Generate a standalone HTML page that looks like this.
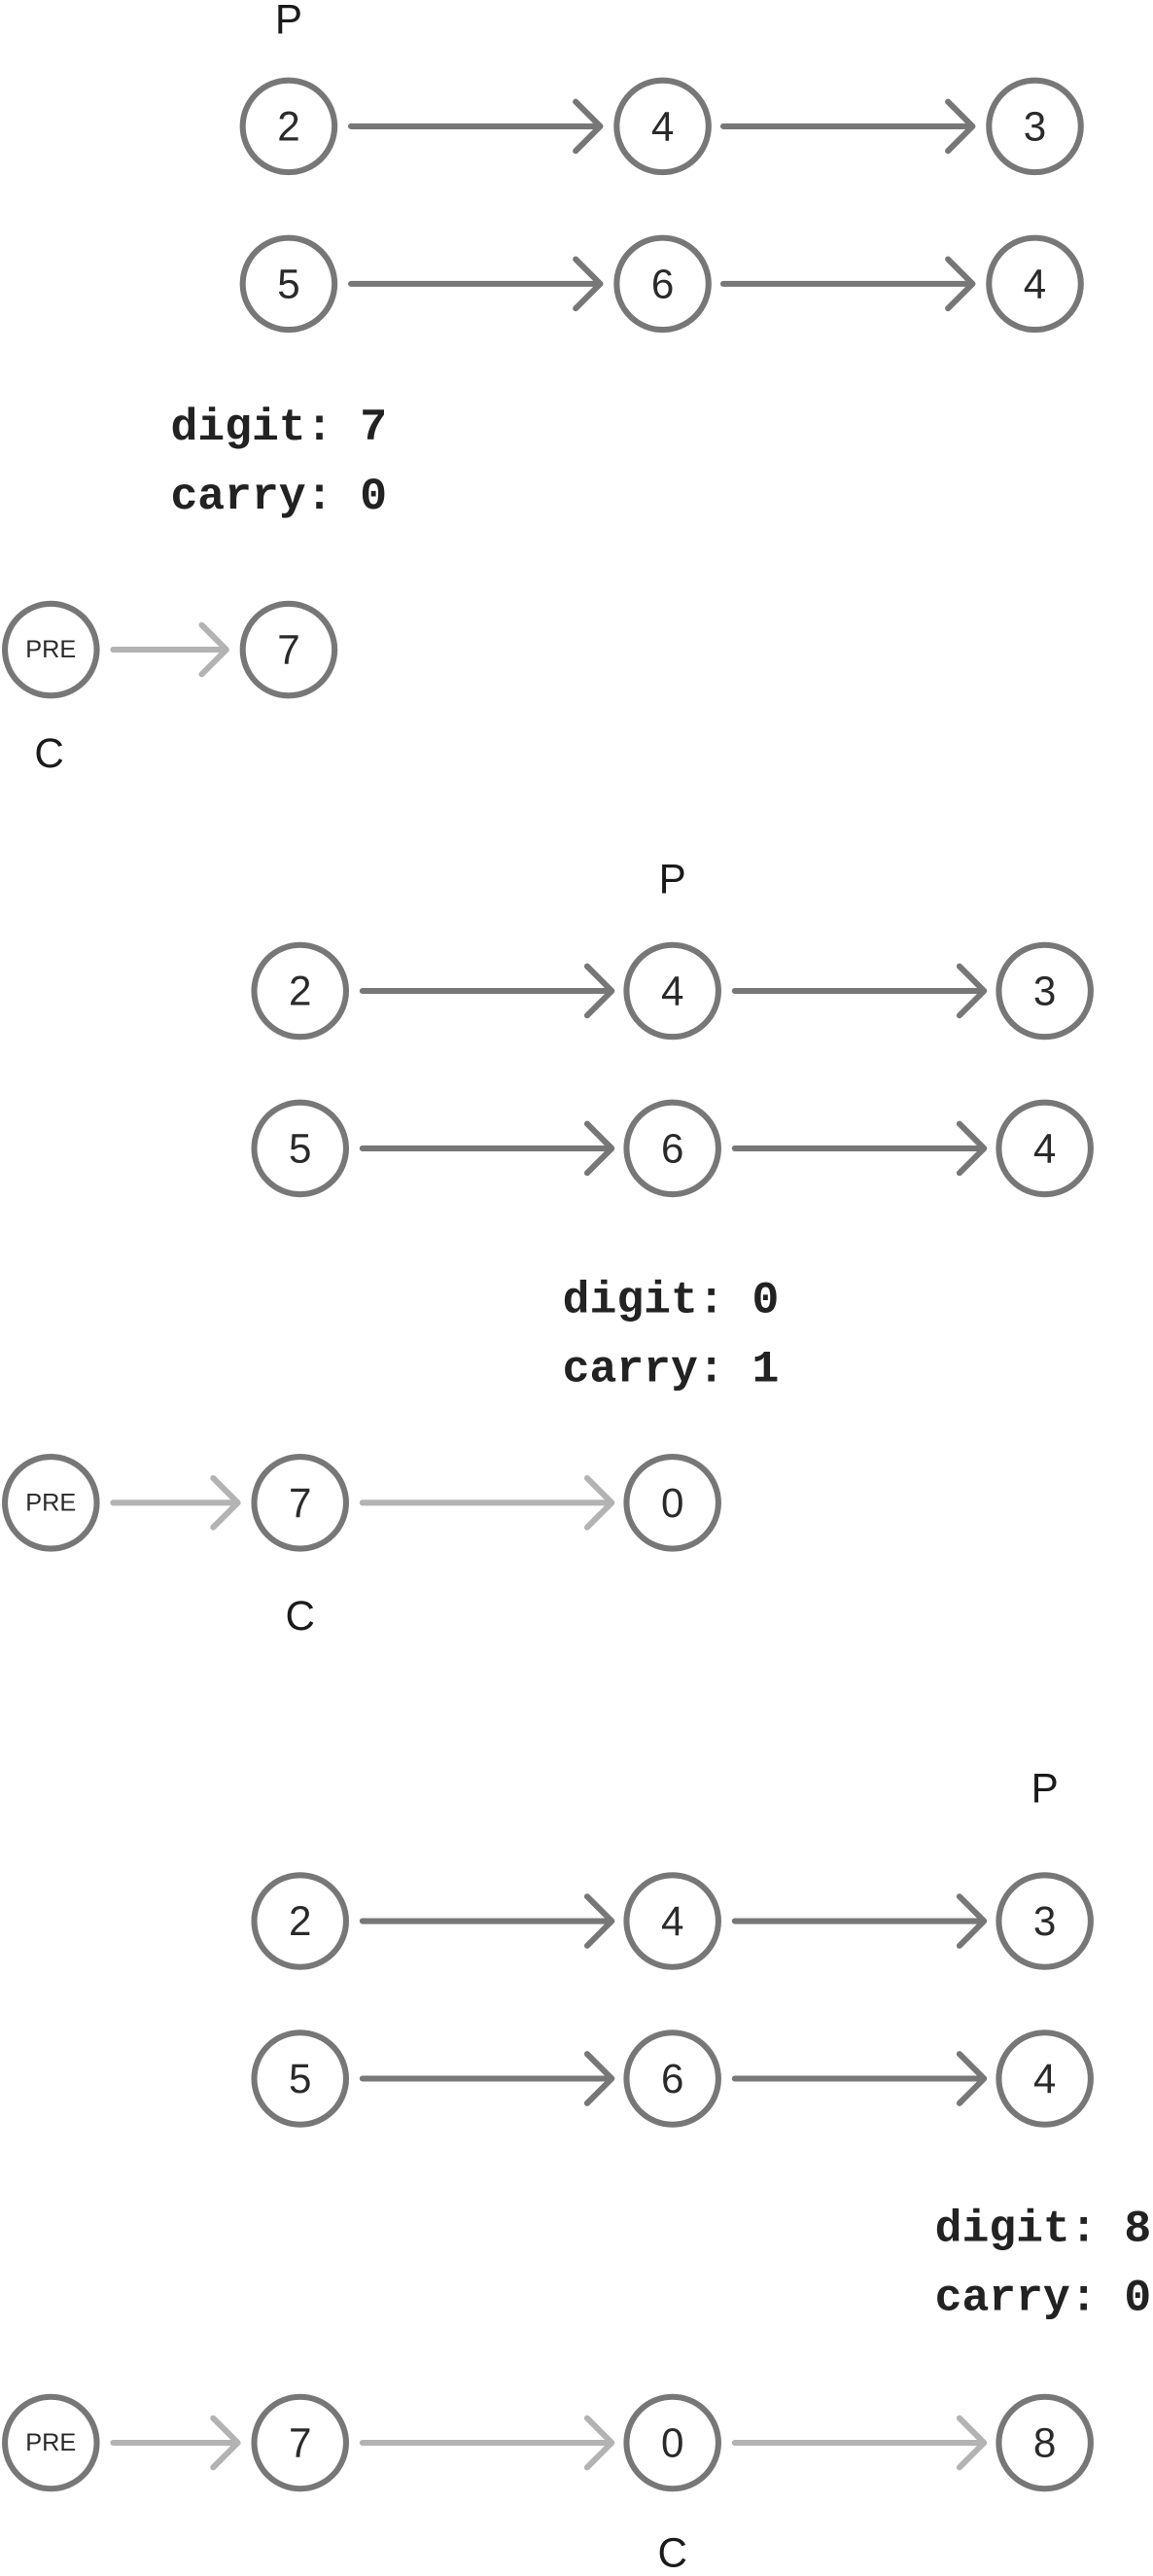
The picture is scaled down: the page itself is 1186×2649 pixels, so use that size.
<!DOCTYPE html>
<html><head><meta charset="utf-8"><style>html,body{margin:0;padding:0;background:#fff}svg{display:block}</style></head>
<body>
<svg width="1186" height="2649" viewBox="0 0 703 1570.2" preserveAspectRatio="none" xmlns="http://www.w3.org/2000/svg">
<defs>
<style>
.c{fill:#fff;stroke:#777;stroke-width:3.6}
.d{stroke:#777;stroke-width:3.6;stroke-linecap:round;fill:none;stroke-linejoin:round}
.l{stroke:#b3b3b3;stroke-width:3.6;stroke-linecap:round;fill:none;stroke-linejoin:round}
.n{font-family:"Liberation Sans",sans-serif;font-size:25px;fill:#2a2a2a;text-anchor:middle;dominant-baseline:central}
.p{font-family:"Liberation Sans",sans-serif;font-size:15px;fill:#2a2a2a;text-anchor:middle;dominant-baseline:central}
.lab{font-family:"Liberation Sans",sans-serif;font-size:25px;fill:#1a1a1a;text-anchor:middle;dominant-baseline:central}
.m{font-family:"Liberation Mono",monospace;font-size:27.5px;font-weight:bold;fill:#222}
</style>
</defs>
<!-- Set 1 -->
<text class="lab" x="176" y="12">P</text>
<path class="d" d="M214 77H366M351 62L366 77L351 92"/>
<path class="d" d="M441 77H593M578 62L593 77L578 92"/>
<path class="d" d="M214 173H366M351 158L366 173L351 188"/>
<path class="d" d="M441 173H593M578 158L593 173L578 188"/>
<circle class="c" cx="176" cy="77" r="28"/><text class="n" x="176" y="77">2</text>
<circle class="c" cx="404" cy="77" r="28"/><text class="n" x="404" y="77">4</text>
<circle class="c" cx="631" cy="77" r="28"/><text class="n" x="631" y="77">3</text>
<circle class="c" cx="176" cy="173" r="28"/><text class="n" x="176" y="173">5</text>
<circle class="c" cx="404" cy="173" r="28"/><text class="n" x="404" y="173">6</text>
<circle class="c" cx="631" cy="173" r="28"/><text class="n" x="631" y="173">4</text>
<text class="m" x="104" y="268">digit: 7</text>
<text class="m" x="104" y="310">carry: 0</text>
<path class="l" d="M69 396H138M123 381L138 396L123 411"/>
<circle class="c" cx="31" cy="396" r="28"/><text class="p" x="31" y="396">PRE</text>
<circle class="c" cx="176" cy="396" r="28"/><text class="n" x="176" y="396">7</text>
<text class="lab" x="30" y="459">C</text>

<!-- Set 2 -->
<text class="lab" x="410" y="536">P</text>
<path class="d" d="M221 604H373M358 589L373 604L358 619"/>
<path class="d" d="M448 604H600M585 589L600 604L585 619"/>
<path class="d" d="M221 700H373M358 685L373 700L358 715"/>
<path class="d" d="M448 700H600M585 685L600 700L585 715"/>
<circle class="c" cx="183" cy="604" r="28"/><text class="n" x="183" y="604">2</text>
<circle class="c" cx="410" cy="604" r="28"/><text class="n" x="410" y="604">4</text>
<circle class="c" cx="637" cy="604" r="28"/><text class="n" x="637" y="604">3</text>
<circle class="c" cx="183" cy="700" r="28"/><text class="n" x="183" y="700">5</text>
<circle class="c" cx="410" cy="700" r="28"/><text class="n" x="410" y="700">6</text>
<circle class="c" cx="637" cy="700" r="28"/><text class="n" x="637" y="700">4</text>
<text class="m" x="343" y="800">digit: 0</text>
<text class="m" x="343" y="842">carry: 1</text>
<path class="l" d="M69 916H145M130 901L145 916L130 931"/>
<path class="l" d="M221 916H373M358 901L373 916L358 931"/>
<circle class="c" cx="31" cy="916" r="28"/><text class="p" x="31" y="916">PRE</text>
<circle class="c" cx="183" cy="916" r="28"/><text class="n" x="183" y="916">7</text>
<circle class="c" cx="410" cy="916" r="28"/><text class="n" x="410" y="916">0</text>
<text class="lab" x="183" y="985">C</text>

<!-- Set 3 -->
<text class="lab" x="637" y="1090">P</text>
<path class="d" d="M221 1171H373M358 1156L373 1171L358 1186"/>
<path class="d" d="M448 1171H600M585 1156L600 1171L585 1186"/>
<path class="d" d="M221 1267H373M358 1252L373 1267L358 1282"/>
<path class="d" d="M448 1267H600M585 1252L600 1267L585 1282"/>
<circle class="c" cx="183" cy="1171" r="28"/><text class="n" x="183" y="1171">2</text>
<circle class="c" cx="410" cy="1171" r="28"/><text class="n" x="410" y="1171">4</text>
<circle class="c" cx="637" cy="1171" r="28"/><text class="n" x="637" y="1171">3</text>
<circle class="c" cx="183" cy="1267" r="28"/><text class="n" x="183" y="1267">5</text>
<circle class="c" cx="410" cy="1267" r="28"/><text class="n" x="410" y="1267">6</text>
<circle class="c" cx="637" cy="1267" r="28"/><text class="n" x="637" y="1267">4</text>
<text class="m" x="570" y="1366">digit: 8</text>
<text class="m" x="570" y="1408">carry: 0</text>
<path class="l" d="M69 1489H145M130 1474L145 1489L130 1504"/>
<path class="l" d="M221 1489H373M358 1474L373 1489L358 1504"/>
<path class="l" d="M448 1489H600M585 1474L600 1489L585 1504"/>
<circle class="c" cx="31" cy="1489" r="28"/><text class="p" x="31" y="1489">PRE</text>
<circle class="c" cx="183" cy="1489" r="28"/><text class="n" x="183" y="1489">7</text>
<circle class="c" cx="410" cy="1489" r="28"/><text class="n" x="410" y="1489">0</text>
<circle class="c" cx="637" cy="1489" r="28"/><text class="n" x="637" y="1489">8</text>
<text class="lab" x="410" y="1556">C</text>
</svg>
</body></html>
